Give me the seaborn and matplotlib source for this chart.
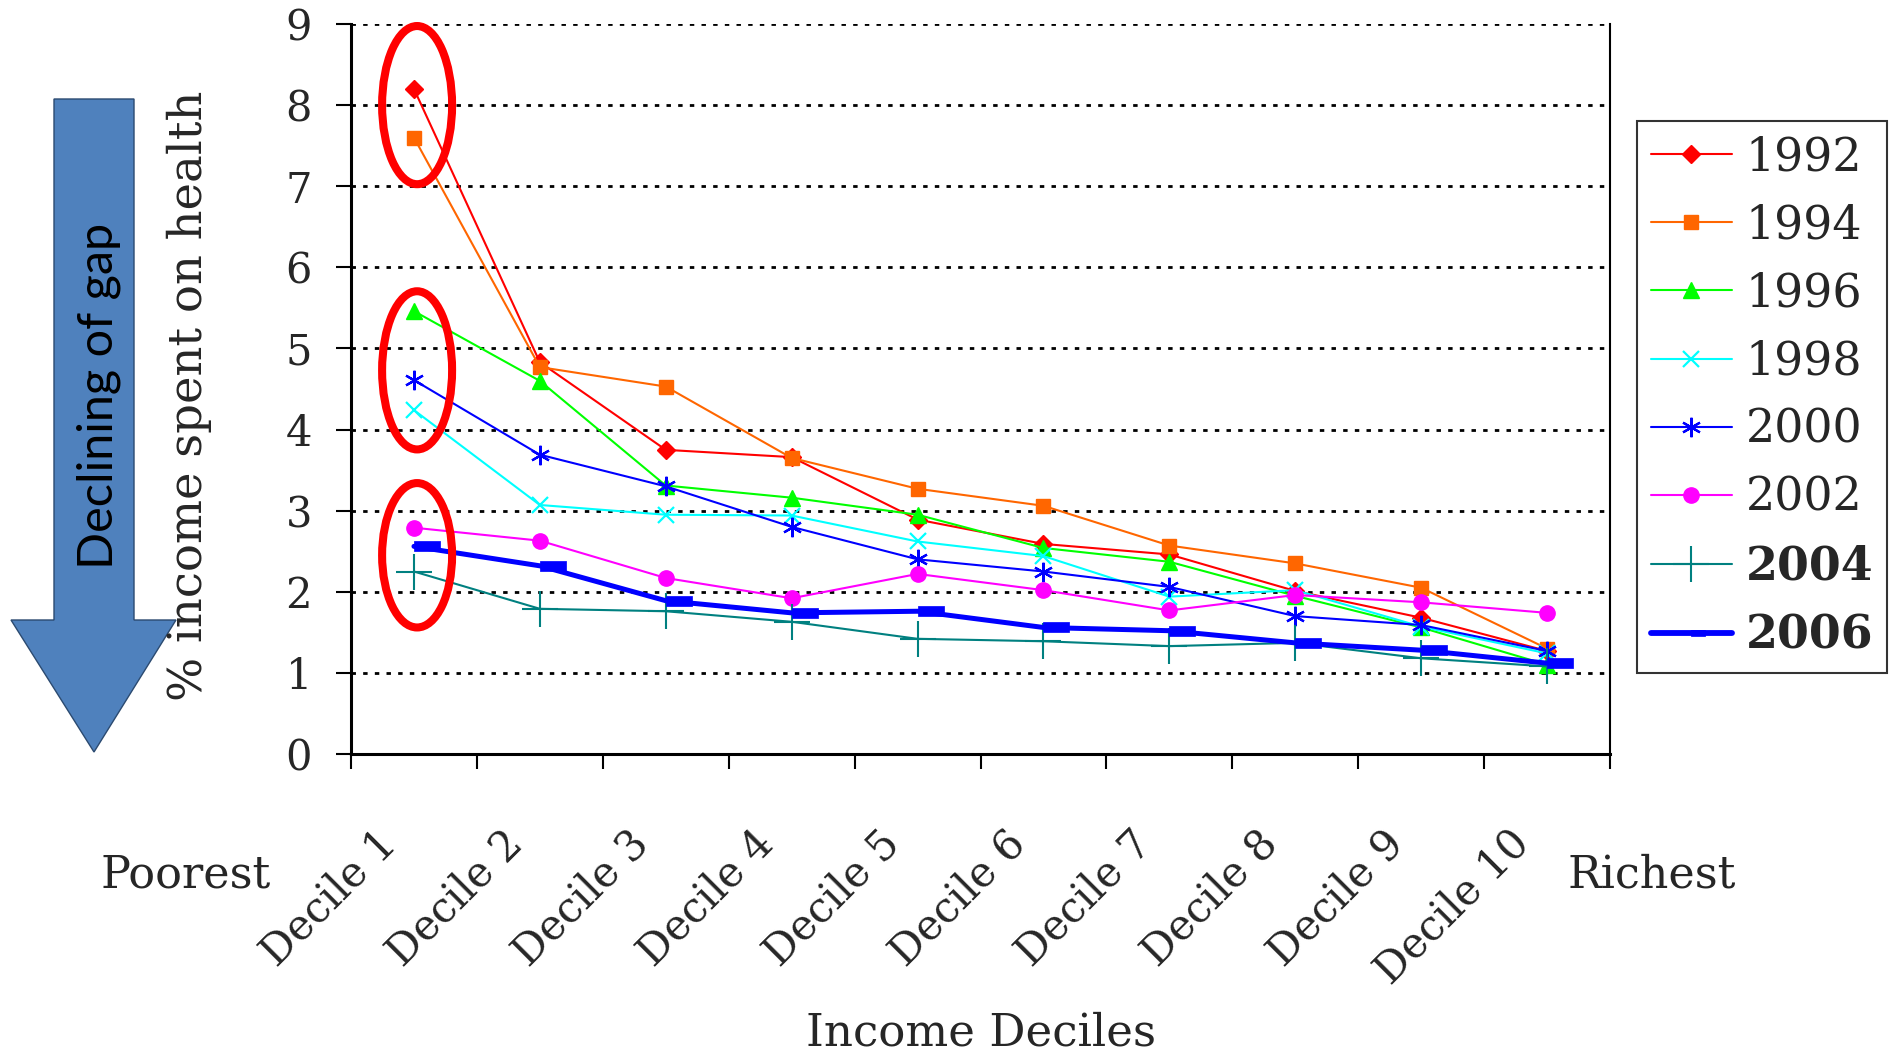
import numpy as np
import pandas as pd
import seaborn as sns
import matplotlib.pyplot as plt
import matplotlib.transforms as mtransforms
from matplotlib.patches import Ellipse, Polygon
from matplotlib.path import Path
from matplotlib.markers import MarkerStyle
from matplotlib.lines import Line2D

# donnees
deciles = ["Decile 1", "Decile 2", "Decile 3", "Decile 4", "Decile 5",
           "Decile 6", "Decile 7", "Decile 8", "Decile 9", "Decile 10"]
years = ["1992", "1994", "1996", "1998", "2000", "2002", "2004", "2006"]

v1992 = [8.20, 4.83, 3.75, 3.66, 2.89, 2.59, 2.46, 2.01, 1.68, 1.27]
v1994 = [7.60, 4.77, 4.53, 3.65, 3.27, 3.06, 2.57, 2.35, 2.05, 1.30]
v1996 = [5.46, 4.60, 3.31, 3.16, 2.95, 2.54, 2.37, 1.95, 1.56, 1.10]
v1998 = [4.24, 3.07, 2.95, 2.94, 2.62, 2.44, 1.94, 2.02, 1.57, 1.24]
v2000 = [4.61, 3.69, 3.30, 2.80, 2.40, 2.25, 2.06, 1.70, 1.59, 1.27]
v2002 = [2.79, 2.63, 2.17, 1.92, 2.22, 2.02, 1.77, 1.96, 1.87, 1.74]
v2004 = [2.25, 1.79, 1.76, 1.63, 1.42, 1.39, 1.33, 1.37, 1.18, 1.08]
v2006 = [2.56, 2.32, 1.89, 1.74, 1.76, 1.56, 1.52, 1.37, 1.28, 1.12]

# zones entourees en rouge (centre y, hauteur) autour du decile 1
circled_centers = [8.0, 4.73, 2.45]
circled_heights = [1.95, 1.95, 1.78]

values = [v1992, v1994, v1996, v1998, v2000, v2002, v2004, v2006]
df = pd.DataFrame({
    "decile": deciles * len(years),
    "year": np.repeat(years, len(deciles)),
    "pct": np.concatenate(values),
})

# marqueur rectangle decale a droite pour 2006
bar_marker = MarkerStyle(Path([(0, -0.21), (1, -0.21), (1, 0.21), (0, 0.21), (0, -0.21)],
                              [1, 2, 2, 2, 79]))

styles = {
    "1992": dict(color="#FF0000", marker="D", ms=8.7, lw=1.5, mew=1),
    "1994": dict(color="#FF6600", marker="s", ms=10.5, lw=1.5, mew=1),
    "1996": dict(color="#00FF00", marker="^", ms=12, lw=1.5, mew=1),
    "1998": dict(color="#00FFFF", marker="x", ms=12, lw=1.5, mew=1.6),
    "2000": dict(color="#0000FF", marker=(6, 2, 0), ms=14, lw=1.5, mew=1.6),
    "2002": dict(color="#FF00FF", marker="o", ms=11, lw=1.5, mew=1),
    "2004": dict(color="#008080", marker="+", ms=26, lw=1.5, mew=1.5),
    "2006": dict(color="#0000FF", marker=bar_marker, ms=37, lw=3.6, mew=0.5),
}

W, H = 1892, 1058
sns.set_theme(style="white")
plt.rcParams["font.family"] = ["DejaVu Serif"]

fig = plt.figure(figsize=(W / 100, H / 100), dpi=100)
ax = fig.add_axes([351 / W, 1 - 754 / H, (1610 - 351) / W, (754 - 24) / H])

for y in years:
    st = styles[y]
    sns.lineplot(data=df[df["year"] == y], x="decile", y="pct", ax=ax,
                 sort=False, estimator=None, legend=False,
                 color=st["color"], lw=st["lw"], marker=st["marker"],
                 markersize=st["ms"], markeredgecolor=st["color"],
                 markeredgewidth=st["mew"], zorder=3)

for cy, hh in zip(circled_centers, circled_heights):
    ax.add_patch(Ellipse((0.025, cy), 0.556, hh, fill=False, ec="#FF0000",
                         lw=5.8, zorder=4, clip_on=False))

ax.set_xlim(-0.5, 9.5)
ax.set_ylim(0, 9)
ax.set_yticks(range(10))
ax.set_xticks(np.arange(-0.5, 10, 1), minor=True)
ax.set_xlabel("")
ax.set_ylabel("")
ax.grid(axis="y", color="black", lw=2, linestyle=(0, (1.6, 2.6)))
ax.grid(axis="x", visible=False)

for side in ["left", "bottom"]:
    ax.spines[side].set_linewidth(2.2)
    ax.spines[side].set_color("black")
ax.spines["right"].set_linewidth(1.5)
ax.spines["right"].set_color("black")
ax.spines["top"].set_visible(False)

ax.tick_params(axis="y", which="major", length=11, width=1.5, color="black",
               direction="out", left=True, pad=17, labelsize=30)
ax.tick_params(axis="x", which="major", length=0, pad=49, labelsize=30)
ax.tick_params(axis="x", which="minor", length=11, width=1.5, color="black",
               direction="out", bottom=True)

offset = mtransforms.ScaledTranslation(-39 / 100, 0, fig.dpi_scale_trans)
for lab in ax.get_xticklabels():
    lab.set_rotation(45)
    lab.set_ha("right")
    lab.set_va("top")
    lab.set_rotation_mode("anchor")
    lab.set_transform(lab.get_transform() + offset)

# fleche bleue a gauche
arrow_px = [(54, 99), (134, 99), (134, 620), (176, 620), (94, 752), (11, 620), (54, 620)]
arrow = Polygon([(x / W, 1 - y / H) for x, y in arrow_px], closed=True,
                fc="#4F81BD", ec="#2B4A70", lw=1, transform=fig.transFigure, zorder=1)
fig.add_artist(arrow)
fig.text(99 / W, 1 - 396 / H, "Declining of gap", rotation=90, ha="center", va="center",
         fontsize=35, family=["Lato", "DejaVu Sans"], color="black", zorder=2)

fig.text(189 / W, 1 - 396 / H, "% income spent on health", rotation=90,
         ha="center", va="center", fontsize=33.5, zorder=3)
fig.text(100 / W, 1 - 887 / H, "Poorest", ha="left", va="baseline", fontsize=32)
fig.text(1567 / W, 1 - 887 / H, "Richest", ha="left", va="baseline", fontsize=32)
fig.text(981 / W, 1 - 1045 / H, "Income Deciles", ha="center", va="baseline", fontsize=32.5)

handles = []
for y in years:
    st = styles[y]
    ms = 20 if y == "2006" else st["ms"]
    lw = 4.2 if y == "2006" else st["lw"]
    handles.append(Line2D([], [], color=st["color"], lw=lw, marker=st["marker"],
                          markersize=ms, markeredgecolor=st["color"],
                          markeredgewidth=st["mew"]))
leg = fig.legend(handles, years, loc="upper left",
                 bbox_to_anchor=(1637 / W, 1 - 121 / H), bbox_transform=fig.transFigure,
                 frameon=True, fancybox=False, edgecolor="black", fontsize=33,
                 handlelength=1.77, handletextpad=0.3, labelspacing=0.5,
                 borderpad=0.3, borderaxespad=0)
leg.get_frame().set_linewidth(1.5)
for t in leg.get_texts():
    if t.get_text() in ("2004", "2006"):
        t.set_fontweight("bold")

fig.savefig("out.png", dpi=100)
